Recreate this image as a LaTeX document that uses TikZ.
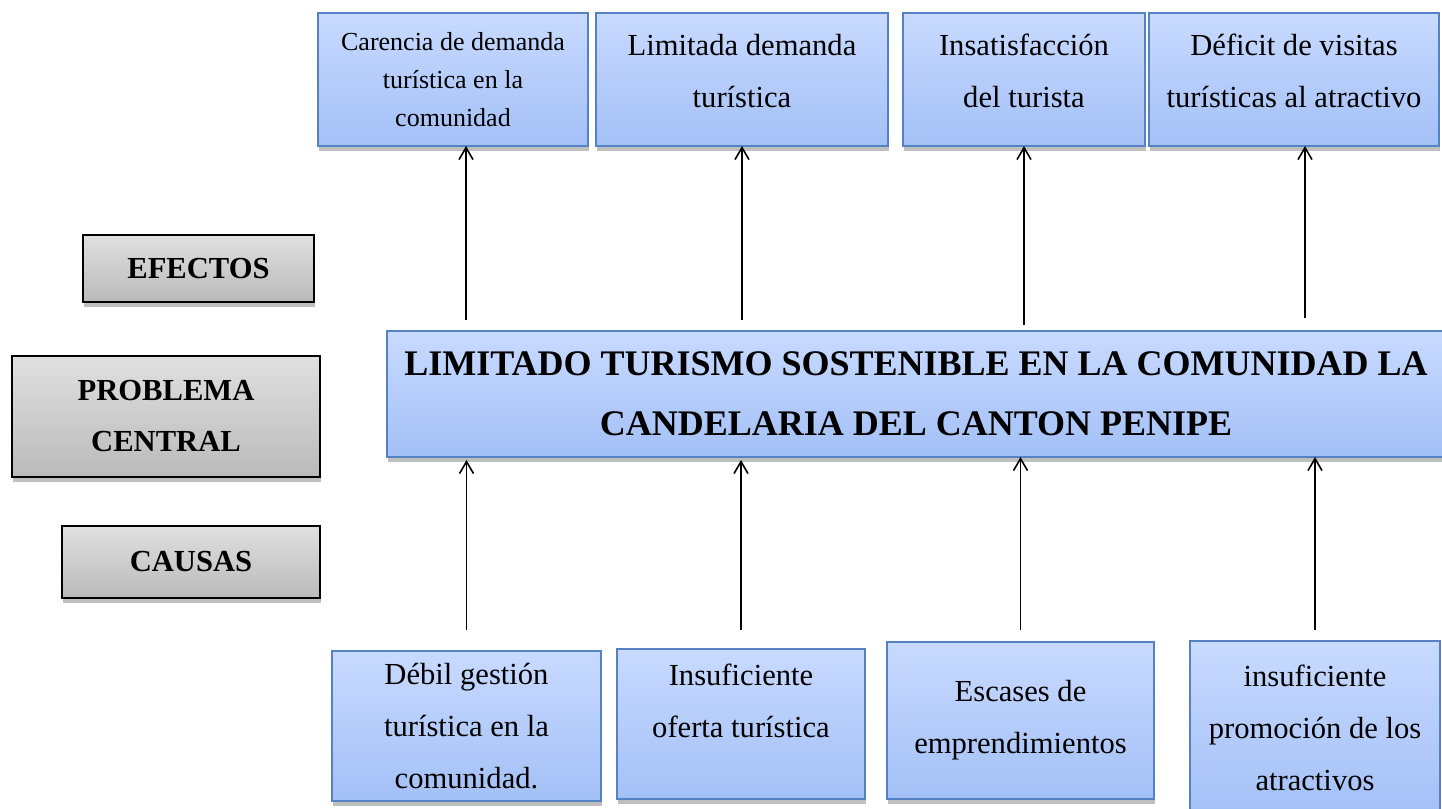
\documentclass[tikz,border=0pt]{standalone}
\usepackage{fontspec}
\setmainfont{Liberation Serif}
\usepackage{tikz}
\usetikzlibrary{arrows.meta,positioning,shadows}
\definecolor{boxtop}{RGB}{200,218,255}
\definecolor{boxbot}{RGB}{163,192,246}
\definecolor{boxline}{RGB}{84,130,196}
\definecolor{greytop}{RGB}{224,224,224}
\definecolor{greybot}{RGB}{186,186,186}

\tikzset{
  bluebox/.style={draw=boxline, line width=1pt, top color=boxtop, bottom color=boxbot,
    inner sep=0pt, outer sep=0pt, align=center,
    drop shadow={shadow xshift=0.6pt, shadow yshift=-2.4pt, opacity=0.45, fill=black!55}},
  greybox/.style={draw=black, line width=1pt, top color=greytop, bottom color=greybot,
    inner sep=0pt, outer sep=0pt, align=center, font=\fontsize{15.3}{25.5}\selectfont\bfseries,
    drop shadow={shadow xshift=0.6pt, shadow yshift=-2.4pt, opacity=0.45, fill=black!55}},
  boxtext/.style={font=\fontsize{15.3}{26}\selectfont},
  arrowline/.style={->, line width=0.8pt, black},
  >={Straight Barb[length=6pt,width=7pt]}
}

\begin{document}
\begin{tikzpicture}[x=0.5pt,y=-0.5pt]
  \path[use as bounding box, fill=white] (0,0) rectangle (1442,809);
  % efectos
  \node[bluebox, minimum width=135pt, minimum height=66.5pt, font=\fontsize{13}{19}\selectfont] (carencia) at (453,79.5) {Carencia de demanda\\turística en la\\comunidad};
  \node[bluebox, boxtext, minimum width=146pt, minimum height=66.5pt, text depth=9pt] (limitada) at (742,79.5) {Limitada demanda\\turística};
  \node[bluebox, boxtext, minimum width=121pt, minimum height=66.5pt, text depth=9pt] (insatis) at (1024,79.5) {Insatisfacción\\del turista};
  \node[bluebox, boxtext, minimum width=145pt, minimum height=66.5pt, text depth=9pt] (deficit) at (1294,79.5) {Déficit de visitas\\turísticas al atractivo};
  % columna izquierda
  \node[greybox, minimum width=115.5pt, minimum height=33.5pt] (efectos) at (198.5,268.5) {EFECTOS};
  \node[greybox, minimum width=154pt, minimum height=60.5pt] (problema) at (166,416.5) {PROBLEMA\\CENTRAL};
  \node[greybox, minimum width=129pt, minimum height=36pt] (causas) at (191,562) {CAUSAS};
  % problema central
  \node[bluebox, minimum width=529pt, minimum height=63pt, font=\fontsize{18}{30}\selectfont\bfseries] (central) at (916,394) {LIMITADO TURISMO SOSTENIBLE EN LA COMUNIDAD LA\\CANDELARIA DEL CANTON PENIPE};
  % causas
  \node[bluebox, boxtext, minimum width=134.5pt, minimum height=75pt] (debil) at (466.5,726) {Débil gestión\\turística en la\\comunidad.};
  \node[bluebox, boxtext, minimum width=124pt, minimum height=75pt, text depth=23pt] (oferta) at (741,724) {Insuficiente\\oferta turística};
  \node[bluebox, boxtext, minimum width=133.5pt, minimum height=78.5pt] (escases) at (1020.5,720.5) {Escases de\\emprendimientos};
  \node[bluebox, boxtext, minimum width=125pt, minimum height=87pt] (promocion) at (1315,728) {insuficiente\\promoción de los\\atractivos};
  % flechas hacia los efectos
  \coordinate (fcarencia) at ([xshift=6.5pt]carencia.south);
  \coordinate (fdeficit) at ([xshift=5.5pt]deficit.south);
  \draw[arrowline, shorten <=5.5pt] (central.north -| fcarencia) -- (fcarencia);
  \draw[arrowline, shorten <=5.5pt] (central.north -| limitada.south) -- (limitada.south);
  \draw[arrowline, shorten <=3pt] (central.north -| insatis.south) -- (insatis.south);
  \draw[arrowline, shorten <=6.5pt] (central.north -| fdeficit) -- (fdeficit);
  % flechas desde las causas
  \draw[arrowline, shorten <=10.5pt, shorten >=1.5pt] (debil.north) -- (central.south -| debil.north);
  \draw[arrowline, shorten <=9.5pt, shorten >=1.5pt] (oferta.north) -- (central.south -| oferta.north);
  \draw[arrowline, shorten <=6pt] (escases.north) -- (central.south -| escases.north);
  \draw[arrowline, shorten <=5.5pt] (promocion.north) -- (central.south -| promocion.north);
\end{tikzpicture}
\end{document}
